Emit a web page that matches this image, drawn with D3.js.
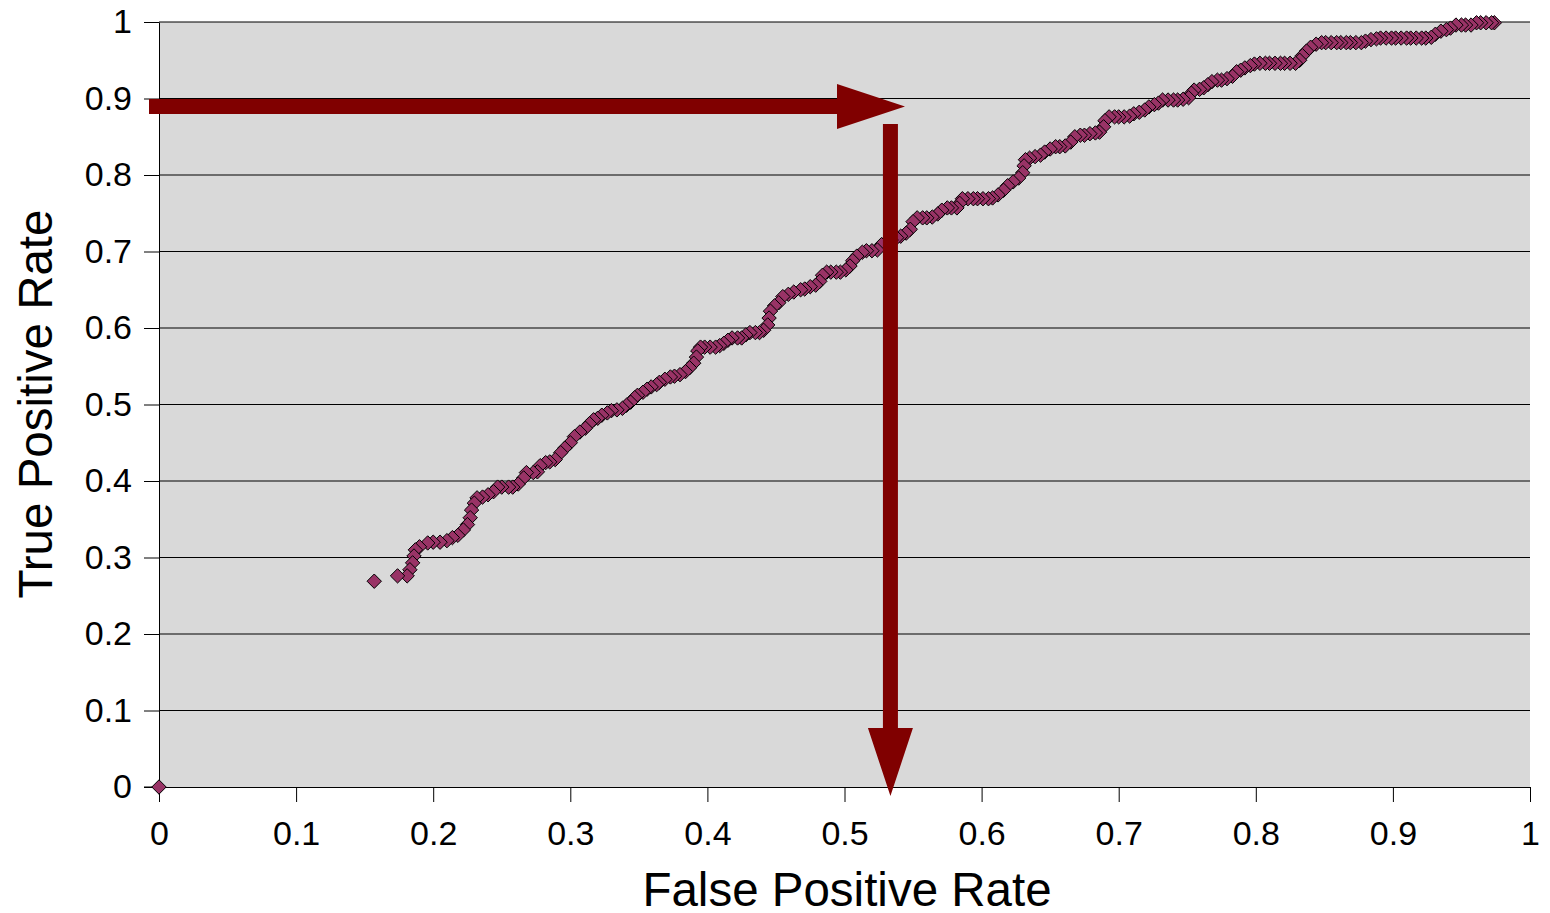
<!DOCTYPE html>
<html>
<head>
<meta charset="utf-8">
<script src="https://cdn.jsdelivr.net/npm/d3@7"></script>
<style>
  html, body { margin: 0; padding: 0; background: #ffffff; }
  svg { display: block; font-family: "Liberation Sans", Arial, sans-serif; }
</style>
</head>
<body>
<svg id="chart" width="1550" height="913"></svg>
<script>
// ---- data ----
const xTickValues = [0, 0.1, 0.2, 0.3, 0.4, 0.5, 0.6, 0.7, 0.8, 0.9, 1];
const xTickLabels = ["0", "0.1", "0.2", "0.3", "0.4", "0.5", "0.6", "0.7", "0.8", "0.9", "1"];
const yTickValues = [0, 0.1, 0.2, 0.3, 0.4, 0.5, 0.6, 0.7, 0.8, 0.9, 1];
const yTickLabels = ["0", "0.1", "0.2", "0.3", "0.4", "0.5", "0.6", "0.7", "0.8", "0.9", "1"];
const xTitle = "False Positive Rate";
const yTitle = "True Positive Rate";

// ROC points: [false positive rate, true positive rate]
const rocPoints = [
  [0,0],[0.157,0.269],[0.174,0.276],[0.181,0.276],[0.183,0.284],[0.185,0.293],[0.186,0.302],[0.187,0.310],
  [0.190,0.314],[0.196,0.319],[0.200,0.320],[0.205,0.320],[0.210,0.322],[0.214,0.326],[0.218,0.329],[0.222,0.336],
  [0.225,0.343],[0.227,0.352],[0.228,0.362],[0.230,0.371],[0.232,0.378],[0.236,0.379],[0.240,0.382],[0.244,0.386],
  [0.247,0.392],[0.250,0.392],[0.255,0.392],[0.258,0.392],[0.262,0.396],[0.266,0.404],[0.268,0.411],[0.273,0.411],
  [0.276,0.412],[0.278,0.420],[0.282,0.424],[0.285,0.425],[0.289,0.428],[0.293,0.437],[0.296,0.443],[0.300,0.450],
  [0.303,0.458],[0.307,0.464],[0.311,0.469],[0.314,0.475],[0.317,0.480],[0.320,0.482],[0.323,0.486],[0.327,0.489],
  [0.330,0.492],[0.334,0.493],[0.338,0.495],[0.341,0.499],[0.344,0.503],[0.347,0.509],[0.349,0.512],[0.353,0.516],
  [0.356,0.520],[0.359,0.523],[0.363,0.526],[0.365,0.529],[0.369,0.533],[0.373,0.536],[0.376,0.537],[0.380,0.539],
  [0.384,0.543],[0.387,0.548],[0.390,0.554],[0.392,0.562],[0.393,0.570],[0.395,0.575],[0.398,0.575],[0.402,0.575],
  [0.406,0.575],[0.409,0.577],[0.412,0.580],[0.415,0.584],[0.418,0.587],[0.422,0.587],[0.425,0.587],[0.428,0.591],
  [0.431,0.594],[0.435,0.594],[0.438,0.594],[0.441,0.597],[0.444,0.604],[0.445,0.613],[0.446,0.622],[0.449,0.629],
  [0.452,0.633],[0.455,0.641],[0.459,0.644],[0.463,0.647],[0.468,0.650],[0.471,0.651],[0.475,0.654],[0.479,0.656],
  [0.482,0.661],[0.484,0.669],[0.487,0.673],[0.490,0.673],[0.494,0.673],[0.497,0.673],[0.501,0.676],[0.504,0.681],
  [0.506,0.688],[0.509,0.694],[0.513,0.699],[0.516,0.701],[0.520,0.701],[0.524,0.702],[0.527,0.709],[0.530,0.712],
  [0.534,0.715],[0.538,0.718],[0.541,0.720],[0.545,0.724],[0.548,0.729],[0.550,0.739],[0.553,0.744],[0.557,0.744],
  [0.560,0.744],[0.564,0.745],[0.568,0.749],[0.571,0.754],[0.575,0.757],[0.578,0.757],[0.582,0.757],[0.584,0.763],
  [0.586,0.769],[0.590,0.769],[0.594,0.769],[0.597,0.769],[0.601,0.769],[0.605,0.769],[0.608,0.770],[0.612,0.774],
  [0.616,0.780],[0.619,0.786],[0.623,0.791],[0.627,0.796],[0.630,0.803],[0.631,0.812],[0.632,0.820],[0.635,0.822],
  [0.639,0.824],[0.643,0.826],[0.646,0.830],[0.650,0.834],[0.654,0.837],[0.657,0.837],[0.661,0.838],[0.665,0.843],
  [0.668,0.850],[0.672,0.852],[0.675,0.852],[0.679,0.854],[0.683,0.855],[0.686,0.856],[0.689,0.863],[0.690,0.871],
  [0.693,0.876],[0.697,0.876],[0.700,0.876],[0.704,0.876],[0.708,0.877],[0.711,0.880],[0.715,0.882],[0.719,0.885],
  [0.722,0.889],[0.726,0.892],[0.729,0.894],[0.732,0.898],[0.736,0.898],[0.740,0.898],[0.743,0.898],[0.747,0.899],
  [0.751,0.901],[0.753,0.907],[0.755,0.911],[0.759,0.912],[0.762,0.914],[0.765,0.918],[0.768,0.922],[0.772,0.924],
  [0.775,0.924],[0.779,0.926],[0.783,0.929],[0.786,0.935],[0.789,0.937],[0.792,0.940],[0.796,0.943],[0.799,0.945],
  [0.803,0.946],[0.807,0.946],[0.810,0.946],[0.814,0.946],[0.818,0.946],[0.821,0.946],[0.825,0.946],[0.829,0.946],
  [0.832,0.950],[0.834,0.956],[0.837,0.962],[0.840,0.967],[0.844,0.971],[0.848,0.973],[0.851,0.973],[0.855,0.973],
  [0.859,0.973],[0.862,0.973],[0.866,0.973],[0.869,0.973],[0.873,0.973],[0.877,0.973],[0.880,0.975],[0.884,0.977],
  [0.888,0.978],[0.891,0.979],[0.895,0.979],[0.899,0.979],[0.902,0.979],[0.906,0.979],[0.910,0.979],[0.913,0.979],
  [0.917,0.979],[0.921,0.979],[0.924,0.979],[0.928,0.980],[0.931,0.984],[0.935,0.988],[0.939,0.990],[0.942,0.992],
  [0.946,0.996],[0.950,0.996],[0.953,0.996],[0.957,0.996],[0.961,0.999],[0.964,0.999],[0.968,0.999],[0.972,0.999],
  [0.974,0.999]
];

// annotation arrows (in data units)
const arrowTPR = 0.8895;   // horizontal arrow level
const arrowFPR = 0.5335;   // vertical arrow position

// ---- drawing ----
const svg = d3.select("#chart");
const plotLeft = 159, plotRight = 1530, plotTop = 22, plotBottom = 787;

const x = d3.scaleLinear().domain([0, 1]).range([plotLeft, plotRight]);
const y = d3.scaleLinear().domain([0, 1]).range([plotBottom, plotTop]);

// plot background
svg.append("rect")
  .attr("x", plotLeft).attr("y", plotTop)
  .attr("width", plotRight - plotLeft).attr("height", plotBottom - plotTop)
  .attr("fill", "#d9d9d9");

// horizontal gridlines
svg.append("g").selectAll("line")
  .data(yTickValues.filter(d => d > 0))
  .join("line")
  .attr("x1", plotLeft).attr("x2", plotRight)
  .attr("y1", d => y(d)).attr("y2", d => y(d))
  .attr("stroke", "#000").attr("stroke-width", 1.1);

// y axis
const yAxis = d3.axisLeft(y)
  .tickValues(yTickValues)
  .tickFormat((d, i) => yTickLabels[i])
  .tickSizeInner(15).tickSizeOuter(0).tickPadding(12);
const gy = svg.append("g").attr("transform", `translate(${plotLeft},0)`).call(yAxis);

// x axis
const xAxis = d3.axisBottom(x)
  .tickValues(xTickValues)
  .tickFormat((d, i) => xTickLabels[i])
  .tickSizeInner(15).tickSizeOuter(0).tickPadding(19);
const gx = svg.append("g").attr("transform", `translate(0,${plotBottom})`).call(xAxis);

[gx, gy].forEach(g => {
  g.selectAll("path.domain").attr("stroke", "#000").attr("stroke-width", 1);
  g.selectAll(".tick line").attr("stroke", "#000").attr("stroke-width", 1);
  g.selectAll(".tick text")
    .attr("fill", "#000")
    .style("font-family", '"Liberation Sans", Arial, sans-serif')
    .style("font-size", "34px");
});
svg.append("line")
  .attr("x1", plotLeft - 15).attr("x2", plotLeft)
  .attr("y1", plotBottom).attr("y2", plotBottom)
  .attr("stroke", "#000");

// axis titles
svg.append("text")
  .attr("x", 847).attr("y", 906)
  .attr("text-anchor", "middle")
  .style("font-size", "47.5px").attr("fill", "#000")
  .text(xTitle);
svg.append("text")
  .attr("transform", `translate(52,404) rotate(-90)`)
  .attr("text-anchor", "middle")
  .style("font-size", "47.5px").attr("fill", "#000")
  .text(yTitle);

// markers (drawn from right to left so the leftmost sits on top)
const diamond = "M0,-7.2L7.2,0L0,7.2L-7.2,0Z";
svg.append("g").selectAll("path")
  .data(rocPoints.slice().reverse())
  .join("path")
  .attr("d", diamond)
  .attr("transform", d => `translate(${x(d[0])},${y(d[1])})`)
  .attr("fill", "#993366")
  .attr("stroke", "#000")
  .attr("stroke-width", 1);

// arrows
const arrowColor = "#800000";
const shaft = 15, headHalf = 22.5, headLen = 68;
const ay = y(arrowTPR), ax = x(arrowFPR);
const hStart = plotLeft - 10, hHeadBase = 837, hTip = hHeadBase + headLen;
svg.append("path")
  .attr("d", `M${hStart},${ay - shaft / 2}L${hHeadBase},${ay - shaft / 2}L${hHeadBase},${ay - headHalf}` +
             `L${hTip},${ay}L${hHeadBase},${ay + headHalf}L${hHeadBase},${ay + shaft / 2}L${hStart},${ay + shaft / 2}Z`)
  .attr("fill", arrowColor);
const vStart = 124, vHeadBase = 728, vTip = vHeadBase + headLen;
svg.append("path")
  .attr("d", `M${ax - shaft / 2},${vStart}L${ax - shaft / 2},${vHeadBase}L${ax - headHalf},${vHeadBase}` +
             `L${ax},${vTip}L${ax + headHalf},${vHeadBase}L${ax + shaft / 2},${vHeadBase}L${ax + shaft / 2},${vStart}Z`)
  .attr("fill", arrowColor);
</script>
</body>
</html>
